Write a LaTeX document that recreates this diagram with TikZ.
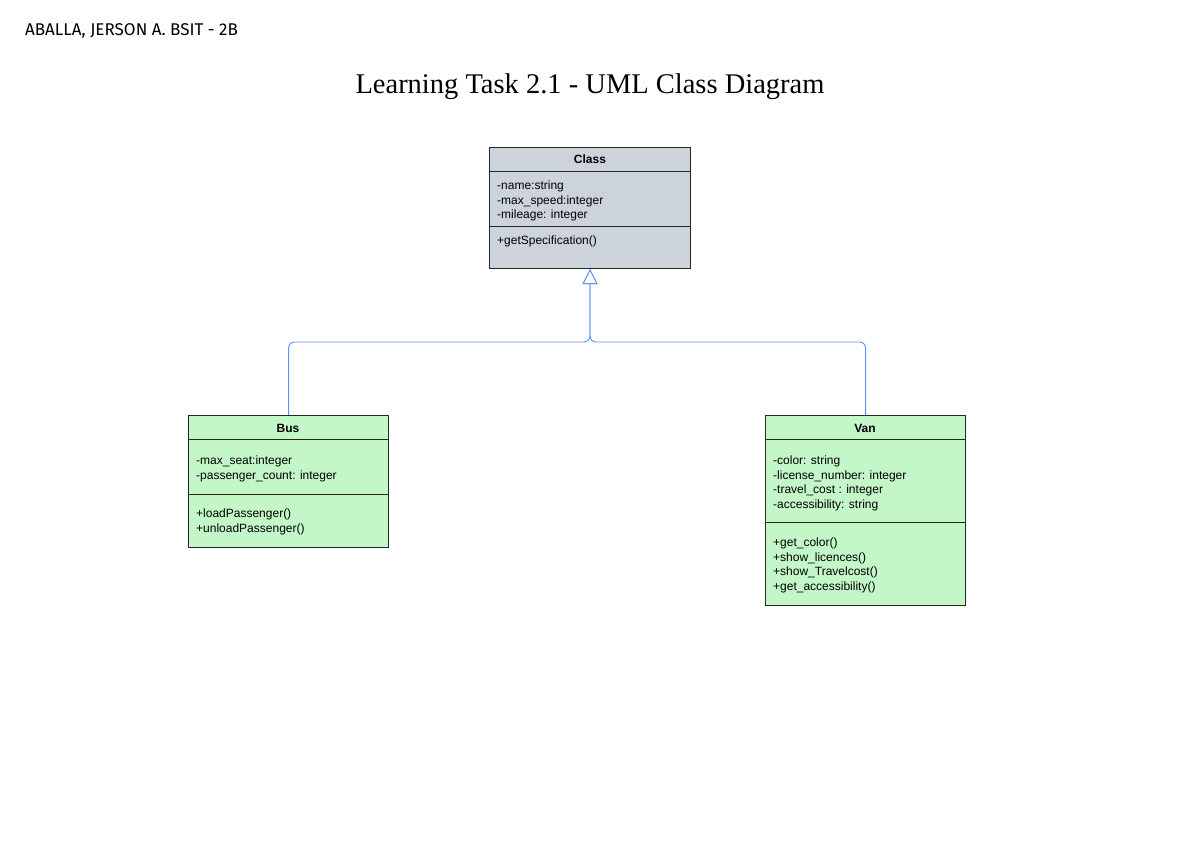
\documentclass[tikz,border=0pt]{standalone}
\usepackage{fontspec}
\setmainfont{Liberation Sans}
\newfontfamily\titlefont{Liberation Serif}
\newfontfamily\handfont{Fira Sans}
\usetikzlibrary{arrows.meta}
\definecolor{clsgray}{HTML}{CDD3DB}
\definecolor{clsgreen}{HTML}{C3F7C8}
\definecolor{connblue}{HTML}{5B95EE}
\tikzset{
  box/.style={draw=black!85, line width=1.1pt, anchor=north west, inner sep=0pt},
  divider/.style={draw=black!85, line width=1pt},
  hdr/.style={font=\fontsize{12}{14}\selectfont\bfseries, inner sep=0pt, text height=8.5pt, text depth=2.5pt},
  txt/.style={font=\fontsize{12}{14}\selectfont, anchor=west, inner sep=0pt, text height=8.5pt, text depth=2.5pt},
  conn/.style={draw=connblue, line width=0.9pt, rounded corners=6pt, -{Triangle[open, length=15pt, width=15pt, fill=white]}}
}
\begin{document}
\begin{tikzpicture}[x=1pt, y=-1pt]
\useasboundingbox (0,0) rectangle (1179,842);
% header texts
\node[font=\handfont\fontsize{17}{19}\selectfont, anchor=west, inner sep=0pt] (author) at (25,31) {ABALLA, JERSON A. BSIT - 2B};
\node[font=\titlefont\fontsize{28.5}{32}\selectfont, inner sep=0pt] (title) at (590,87) {Learning Task 2.1 - UML Class Diagram};
% Class box
\node[box, fill=clsgray, minimum width=201pt, minimum height=121pt] (cls) at (489,147) {};
\draw[divider] (489,172) -- (690,172);
\draw[divider] (489,227) -- (690,227);
\node[hdr] (clsname) at (590,161) {Class};
\node[txt] (c1) at (497,186.5) {-name:string};
\node[txt] (c2) at (497,201.5) {-max\_speed:integer};
\node[txt] (c3) at (497,215.5) {-mileage: integer};
\node[txt] (c4) at (497,241.5) {+getSpecification()};
% Bus box
\node[box, fill=clsgreen, minimum width=200pt, minimum height=132pt] (bus) at (188,415) {};
\draw[divider] (188,440) -- (388,440);
\draw[divider] (188,494) -- (388,494);
\node[hdr] (busname) at (288,429) {Bus};
\node[txt] (b1) at (196,461.5) {-max\_seat:integer};
\node[txt] (b2) at (196,476.5) {-passenger\_count: integer};
\node[txt] (b3) at (196,514.5) {+loadPassenger()};
\node[txt] (b4) at (196,529.5) {+unloadPassenger()};
% Van box
\node[box, fill=clsgreen, minimum width=200pt, minimum height=190pt] (van) at (765,415) {};
\draw[divider] (765,440) -- (965,440);
\draw[divider] (765,522) -- (965,522);
\node[hdr] (vanname) at (865,429) {Van};
\node[txt] (v1) at (773,461.5) {-color: string};
\node[txt] (v2) at (773,476.5) {-license\_number: integer};
\node[txt] (v3) at (773,490.5) {-travel\_cost : integer};
\node[txt] (v4) at (773,505.5) {-accessibility: string};
\node[txt] (v5) at (773,543.5) {+get\_color()};
\node[txt] (v6) at (773,558.5) {+show\_licences()};
\node[txt] (v7) at (773,572.5) {+show\_Travelcost()};
\node[txt] (v8) at (773,587.5) {+get\_accessibility()};
% connectors
\coordinate (j) at (590,342);
\draw[conn] (bus.north) |- (j) -- (cls.south);
\draw[conn] (van.north) |- (j) -- (cls.south);
\end{tikzpicture}
\end{document}
